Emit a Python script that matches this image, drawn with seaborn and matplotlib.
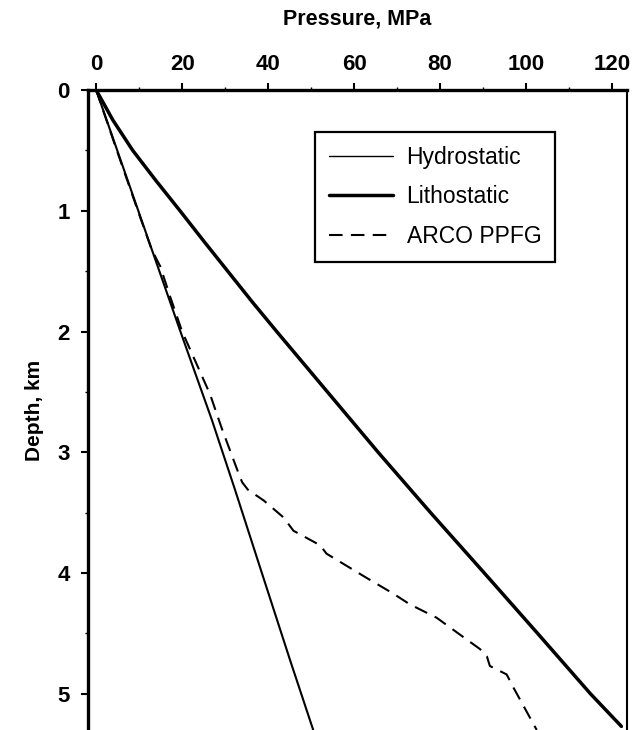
import numpy as np
import pandas as pd
import matplotlib
matplotlib.use('Agg')
import matplotlib.pyplot as plt
import seaborn as sns
from matplotlib.lines import Line2D
from matplotlib.ticker import MultipleLocator

# ── data (pressure in MPa, depth in km) ─────────────────────────────
hydro_depth = [0.0, 0.5, 1.0, 2.0, 2.73, 3.31, 3.95, 4.72, 5.30]
hydro_p = [0.0, 4.9, 9.8, 19.6, 26.9, 32.3, 38.1, 45.1, 50.5]

litho_depth = [0.0, 0.25, 0.5, 0.75, 1.0, 1.25, 1.5, 1.75, 2.0, 2.5, 3.0,
               3.5, 4.0, 4.5, 5.0, 5.27]
litho_p = [0.0, 3.9, 8.5, 13.9, 19.5, 25.0, 30.6, 36.2, 42.0, 53.8, 65.6,
           77.8, 90.3, 102.7, 115.0, 122.2]

arco_depth = [0.0, 0.5, 1.0, 1.32, 1.46, 1.71, 2.0, 2.52, 2.8, 3.0, 3.21, 3.25,
              3.31, 3.40, 3.54, 3.65, 3.77, 3.84, 4.04, 4.17, 4.26, 4.37,
              4.45, 4.63, 4.69, 4.77, 4.84, 4.95, 5.30]
arco_p = [0.0, 4.8, 9.7, 12.9, 14.9, 17.2, 20.0, 26.5, 29.2, 31.3, 33.5, 34.0,
          35.3, 39.0, 43.6, 45.9, 52.1, 53.6, 62.9, 69.1, 73.0, 79.2,
          82.3, 89.3, 90.9, 91.6, 95.5, 97.1, 102.5]

series_names = ['Hydrostatic', 'Lithostatic', 'ARCO PPFG']

# ── style ───────────────────────────────────────────────────────────
sns.set_style('ticks')
plt.rcParams['font.family'] = ['Liberation Sans', 'DejaVu Sans']
plt.rcParams['text.color'] = 'black'
plt.rcParams['axes.labelcolor'] = 'black'

fig = plt.figure(figsize=(6.32, 7.3), dpi=100)
ax = fig.add_axes([88 / 632, 0.0, 539 / 632, 640 / 730])

hydro = pd.DataFrame({'p': hydro_p, 'depth': hydro_depth})
litho = pd.DataFrame({'p': litho_p, 'depth': litho_depth})
arco = pd.DataFrame({'p': arco_p, 'depth': arco_depth})

sns.lineplot(data=hydro, x='p', y='depth', sort=False, estimator=None,
             color='black', lw=1.5, ax=ax)
sns.lineplot(data=litho, x='p', y='depth', sort=False, estimator=None,
             color='black', lw=2.5, ax=ax)
sns.lineplot(data=arco, x='p', y='depth', sort=False, estimator=None,
             color='black', lw=1.5, ls=(0, (6.5, 4)), ax=ax)

# axes: pressure on top, depth increasing downward
ax.set_xlim(-1.9, 123.5)
ax.set_ylim(5.30, 0)
ax.xaxis.set_ticks_position('top')
ax.xaxis.set_label_position('top')
ax.set_xticks([0, 20, 40, 60, 80, 100, 120])
ax.set_yticks([0, 1, 2, 3, 4, 5])
ax.xaxis.set_minor_locator(MultipleLocator(10))
ax.yaxis.set_minor_locator(MultipleLocator(0.5))

ax.tick_params(axis='both', which='major', length=5, width=1.5,
               labelsize=16, color='black', labelcolor='black')
ax.tick_params(axis='x', which='major', pad=6)
ax.tick_params(axis='y', which='major', pad=8)
ax.tick_params(axis='both', which='minor', length=2, width=1, color='black')
for lab in ax.get_xticklabels() + ax.get_yticklabels():
    lab.set_fontweight('bold')

ax.set_xlabel('Pressure, MPa', fontsize=15.5, fontweight='bold', labelpad=21)
ax.set_ylabel('Depth, km', fontsize=15, fontweight='bold', labelpad=10)

for side in ['top', 'left']:
    ax.spines[side].set_linewidth(2.4)
    ax.spines[side].set_color('black')
ax.spines['right'].set_visible(True)
ax.spines['right'].set_linewidth(1.5)
ax.spines['right'].set_color('black')
ax.spines['bottom'].set_visible(False)

# legend
handles = [Line2D([], [], color='black', lw=1.0),
           Line2D([], [], color='black', lw=2.5),
           Line2D([], [], color='black', lw=1.5, ls=(0, (6.5, 4)))]
leg = ax.legend(handles, series_names, loc='upper left',
                bbox_to_anchor=(0.421, 0.934), fontsize=16.5,
                frameon=True, fancybox=False, handlelength=2.8,
                handletextpad=0.6, labelspacing=0.72, borderpad=0.6,
                borderaxespad=0.0)
leg.get_frame().set_edgecolor('black')
leg.get_frame().set_linewidth(1.6)
leg.get_frame().set_alpha(1)

fig.savefig('out.png', dpi=100)
